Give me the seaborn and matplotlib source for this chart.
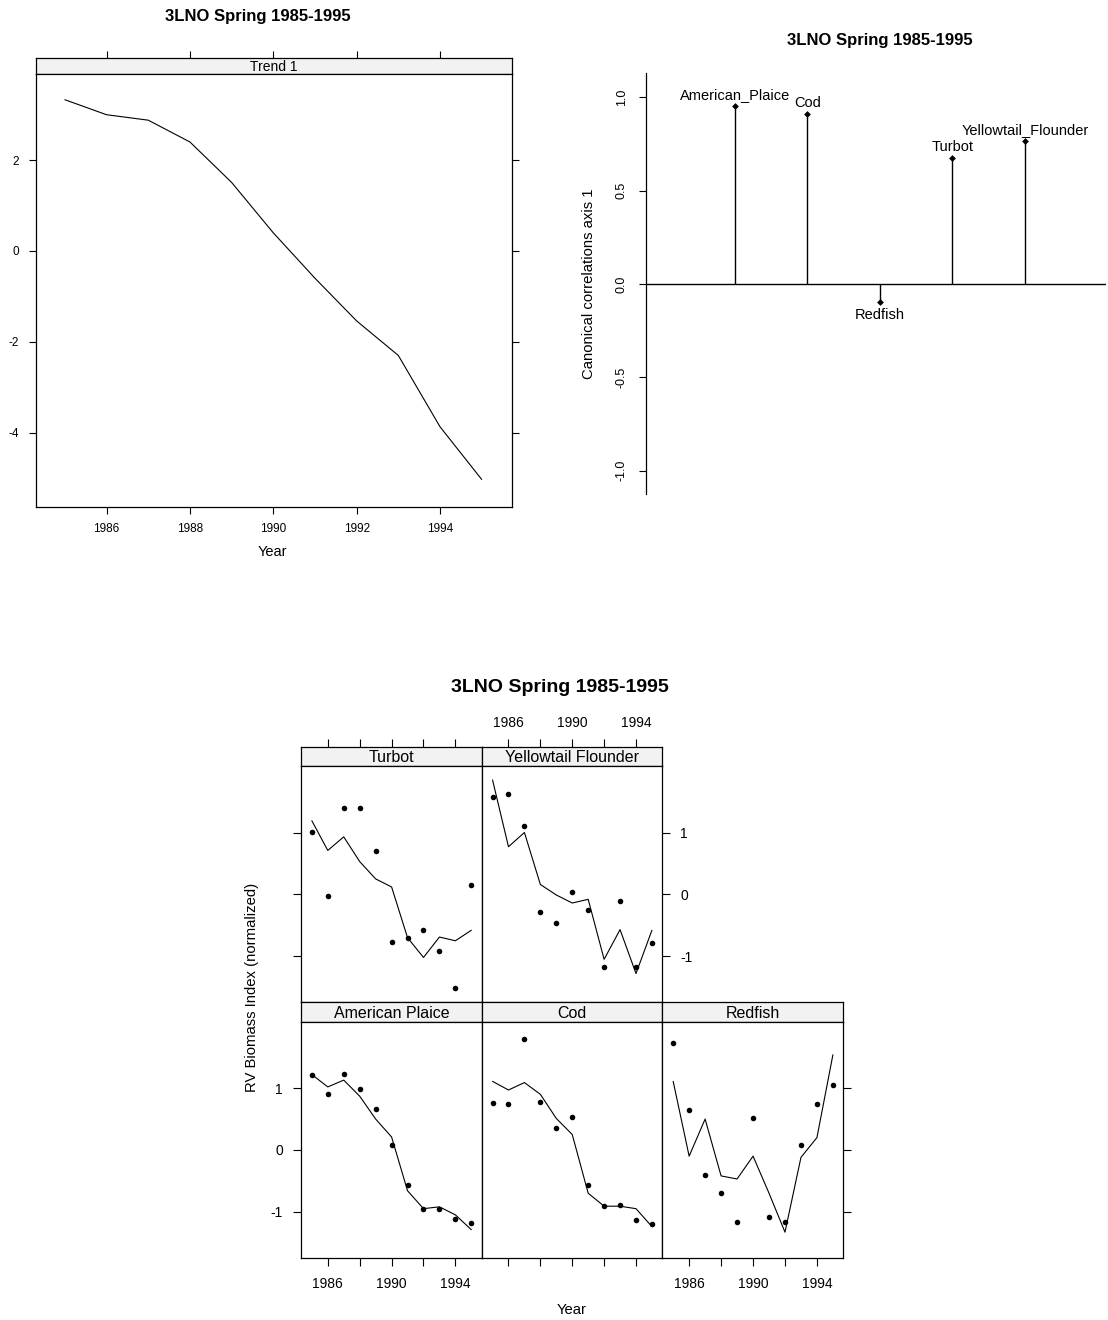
import numpy as np
import pandas as pd
import matplotlib
matplotlib.use("Agg")
import matplotlib.pyplot as plt
import seaborn as sns

# ---------------- data ----------------
years = [1985, 1986, 1987, 1988, 1989, 1990, 1991, 1992, 1993, 1994, 1995]

trend1 = [3.33, 3.00, 2.88, 2.40, 1.51, 0.40, -0.60, -1.54, -2.30, -3.87, -5.03]

canon_species = ["American_Plaice", "Cod", "Redfish", "Turbot", "Yellowtail_Flounder"]
canon_values = [0.955, 0.91, -0.097, 0.675, 0.766]

panel_names = ["Turbot", "Yellowtail Flounder", "American Plaice", "Cod", "Redfish"]

turbot_obs = [1.01, -0.03, 1.40, 1.40, 0.70, -0.77, -0.70, -0.57, -0.91, -1.52, 0.15]
turbot_fit = [1.19, 0.71, 0.93, 0.53, 0.25, 0.12, -0.70, -1.02, -0.69, -0.75, -0.58]

yellowtail_obs = [1.58, 1.63, 1.11, -0.28, -0.46, 0.04, -0.25, -1.17, -0.10, -1.17, -0.78]
yellowtail_fit = [1.85, 0.77, 1.00, 0.16, -0.01, -0.14, -0.08, -1.05, -0.57, -1.28, -0.58]

plaice_obs = [1.21, 0.90, 1.23, 0.98, 0.67, 0.08, -0.57, -0.96, -0.96, -1.11, -1.18]
plaice_fit = [1.22, 1.02, 1.13, 0.87, 0.50, 0.21, -0.66, -0.95, -0.92, -1.05, -1.29]

cod_obs = [0.76, 0.74, 1.80, 0.78, 0.35, 0.53, -0.57, -0.91, -0.89, -1.14, -1.19]
cod_fit = [1.11, 0.97, 1.09, 0.90, 0.51, 0.25, -0.70, -0.91, -0.91, -0.95, -1.24]

redfish_obs = [1.73, 0.65, -0.41, -0.69, -1.17, 0.51, -1.09, -1.17, 0.08, 0.74, 1.05]
redfish_fit = [1.11, -0.10, 0.50, -0.42, -0.47, -0.10, -0.70, -1.33, -0.12, 0.20, 1.54]

title_text = "3LNO Spring 1985-1995"

# ---------------- style ----------------
sns.set_theme(style="white")
plt.rcParams["font.family"] = ["Liberation Sans", "DejaVu Sans"]
plt.rcParams["axes.unicode_minus"] = False
plt.rcParams["axes.edgecolor"] = "black"
plt.rcParams["axes.linewidth"] = 0.9
plt.rcParams["xtick.color"] = "black"
plt.rcParams["ytick.color"] = "black"
plt.rcParams["xtick.labelcolor"] = "black"
plt.rcParams["ytick.labelcolor"] = "black"
plt.rcParams["text.color"] = "black"
plt.rcParams["axes.labelcolor"] = "black"

W, H = 1108, 1320
fig = plt.figure(figsize=(W / 100, H / 100), dpi=100)
fig.patch.set_facecolor("white")

STRIP_COLOR = "#f2f2f2"


def px_axes(x0, y0, x1, y1):
    return fig.add_axes([x0 / W, 1 - y1 / H, (x1 - x0) / W, (y1 - y0) / H])


def fig_text(x, y, s, **kw):
    fig.text(x / W, 1 - y / H, s, color="black", **kw)


# ================= top-left: Trend 1 =================
tl_x0, tl_x1 = 35.7, 511.7
tl_strip_top, tl_panel_top, tl_panel_bot = 58.3, 74.3, 506.7
tl_xlim = (1984.30, 1995.72)

ax_strip = px_axes(tl_x0, tl_strip_top, tl_x1, tl_panel_top)
ax_strip.set_facecolor(STRIP_COLOR)
ax_strip.set_xlim(*tl_xlim)
ax_strip.set_ylim(0, 1)
ax_strip.set_xticks([1986, 1988, 1990, 1992, 1994])
ax_strip.set_yticks([])
ax_strip.tick_params(axis="x", top=True, bottom=False, labeltop=False,
                     labelbottom=False, direction="out", length=5, width=0.8)
ax_strip.text(0.5, 0.45, "Trend 1", ha="center", va="center",
              fontsize=10, color="black", transform=ax_strip.transAxes)

ax_tl = px_axes(tl_x0, tl_panel_top, tl_x1, tl_panel_bot)
sns.lineplot(x=years, y=trend1, ax=ax_tl, color="black", linewidth=0.8)
ax_tl.set_xlim(*tl_xlim)
ax_tl.set_ylim(-5.63, 3.89)
ax_tl.set_xticks([1986, 1988, 1990, 1992, 1994])
ax_tl.set_yticks([-4, -2, 0, 2])
ax_tl.tick_params(axis="both", direction="out", length=5, width=0.8,
                  labelsize=8.5, pad=7)
ax_tl.tick_params(axis="y", right=True, labelright=False, left=True)
ax_tl.tick_params(axis="x", bottom=True, top=False)
ax_tl.set_xlabel("")
ax_tl.set_ylabel("")
fig_text(272, 552, "Year", ha="center", va="center", fontsize=10.5)
fig_text(258, 17, title_text, ha="center", va="center", fontsize=12,
         fontweight="bold")

# ================= top-right: canonical correlations =================
ax_tr = px_axes(646, 73.5, 1106, 494)
xpos = np.arange(1, len(canon_species) + 1)
ax_tr.vlines(xpos, 0, canon_values, color="black", linewidth=1.0)
sns.scatterplot(x=xpos, y=canon_values, ax=ax_tr, color="black", marker="D",
                s=12, linewidth=0)
ax_tr.axhline(0, color="black", linewidth=1.0)
ax_tr.set_xlim(-0.229, 6.12)
ax_tr.set_ylim(-1.125, 1.1275)
for sp in ["top", "right", "bottom"]:
    ax_tr.spines[sp].set_visible(False)
ax_tr.set_xticks([])
ax_tr.set_yticks([-1, -0.5, 0, 0.5, 1])
ax_tr.set_yticklabels(["-1.0", "-0.5", "0.0", "0.5", "1.0"], rotation=90,
                      va="center")
ax_tr.tick_params(axis="y", direction="out", length=5, width=0.8,
                  labelsize=9, pad=8, left=True)
ax_tr.set_xlabel("")
ax_tr.set_ylabel("")
for xi, name, v in zip(xpos, canon_species, canon_values):
    if v >= 0:
        ax_tr.annotate(name, (xi, v), xytext=(0, 3), textcoords="offset points",
                       ha="center", va="bottom", fontsize=10.5, color="black")
    else:
        ax_tr.annotate(name, (xi, v), xytext=(0, -4), textcoords="offset points",
                       ha="center", va="top", fontsize=10.5, color="black")
fig_text(588.6, 284, "Canonical correlations axis 1", rotation=90,
         ha="center", va="center", fontsize=10.7)
fig_text(880, 40, title_text, ha="center", va="center", fontsize=12,
         fontweight="bold")

# ================= bottom: lattice of species =================
col_edges = [301, 481.7, 662.3, 843.3]
rows = [(746.7, 766.0, 1002.0), (1002.0, 1021.7, 1257.5)]
b_xlim = (1984.32, 1995.65)
b_ylim = (-1.74, 2.075)
xt = [1986, 1988, 1990, 1992, 1994]
xt_labels = ["1986", "", "1990", "", "1994"]
yt = [-1, 0, 1]

panels = [
    # name, obs, fit, row, col, options
    ("Turbot", turbot_obs, turbot_fit, 0, 0,
     dict(top="ticks", left="ticks")),
    ("Yellowtail Flounder", yellowtail_obs, yellowtail_fit, 0, 1,
     dict(top="labels", right="labels")),
    ("American Plaice", plaice_obs, plaice_fit, 1, 0,
     dict(left="labels", bottom="labels")),
    ("Cod", cod_obs, cod_fit, 1, 1,
     dict(bottom="ticks")),
    ("Redfish", redfish_obs, redfish_fit, 1, 2,
     dict(bottom="labels", right="ticks")),
]

for name, obs, fit, r, c, opts in panels:
    s_top, p_top, p_bot = rows[r]
    x0, x1 = col_edges[c], col_edges[c + 1]

    axs = px_axes(x0, s_top, x1, p_top)
    axs.set_facecolor(STRIP_COLOR)
    axs.set_xlim(*b_xlim)
    axs.set_ylim(0, 1)
    axs.set_yticks([])
    if "top" in opts:
        axs.set_xticks(xt)
        axs.set_xticklabels(xt_labels if opts["top"] == "labels" else [""] * 5)
        axs.tick_params(axis="x", top=True, bottom=False,
                        labeltop=(opts["top"] == "labels"), labelbottom=False,
                        direction="out", length=6, width=0.8, labelsize=10,
                        pad=6)
    else:
        axs.set_xticks([])
    axs.text(0.5, 0.42, name, ha="center", va="center", fontsize=11.5,
             color="black", transform=axs.transAxes)

    ax = px_axes(x0, p_top, x1, p_bot)
    sns.lineplot(x=years, y=fit, ax=ax, color="black", linewidth=0.8)
    sns.scatterplot(x=years, y=obs, ax=ax, color="black", s=16, linewidth=0)
    ax.set_xlim(*b_xlim)
    ax.set_ylim(*b_ylim)
    ax.set_xlabel("")
    ax.set_ylabel("")

    if "bottom" in opts:
        ax.set_xticks(xt)
        ax.set_xticklabels(xt_labels if opts["bottom"] == "labels" else [""] * 5)
        ax.tick_params(axis="x", bottom=True, top=False,
                       labelbottom=(opts["bottom"] == "labels"),
                       direction="out", length=6, width=0.8, labelsize=10,
                       pad=8)
    else:
        ax.set_xticks([])

    side = "left" if "left" in opts else ("right" if "right" in opts else None)
    if side is None:
        ax.set_yticks([])
    else:
        ax.set_yticks(yt)
        show = opts[side] == "labels"
        ax.set_yticklabels(["-1", "0", "1"] if show else ["", "", ""])
        ax.tick_params(axis="y", left=(side == "left"), right=(side == "right"),
                       labelleft=(side == "left" and show),
                       labelright=(side == "right" and show),
                       direction="out", length=6, width=0.8, labelsize=10,
                       pad=7)

fig_text(560, 687, title_text, ha="center", va="center", fontsize=14,
         fontweight="bold")
fig_text(572, 1310, "Year", ha="center", va="center", fontsize=10.7)
fig_text(251.7, 987, "RV Biomass Index (normalized)", rotation=90,
         ha="center", va="center", fontsize=10.7)

fig.savefig("out.png", dpi=100, facecolor="white")
